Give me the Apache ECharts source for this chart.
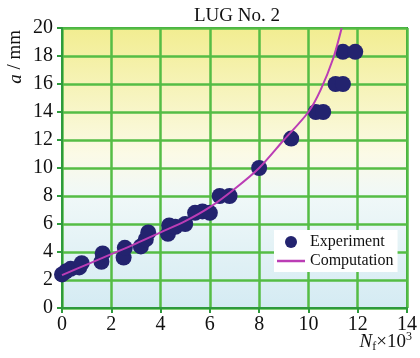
<!DOCTYPE html>
<html><head><meta charset="utf-8">
<script src="https://cdn.jsdelivr.net/npm/echarts@6/dist/echarts.min.js"></script>
<style>html,body{margin:0;padding:0;background:#fff}#c{width:420px;height:358px}</style>
</head><body><div id="c"></div>
<script>
var xTicks = [0, 2, 4, 6, 8, 10, 12, 14];
var yTicks = [0, 2, 4, 6, 8, 10, 12, 14, 16, 18, 20];
var experiment = [
  [0.0, 2.4], [0.15, 2.6], [0.35, 2.8], [0.7, 2.9], [0.8, 3.2],
  [1.6, 3.3], [1.65, 3.9],
  [2.5, 3.6], [2.55, 4.3],
  [3.2, 4.4], [3.4, 4.9], [3.5, 5.4],
  [4.3, 5.3], [4.35, 5.9], [4.6, 5.8], [5.0, 6.0],
  [5.4, 6.8], [5.7, 6.9], [6.0, 6.8],
  [6.4, 8.0], [6.8, 8.0],
  [8.0, 10.0],
  [9.3, 12.1],
  [10.3, 14.0], [10.6, 14.0],
  [11.1, 16.0], [11.4, 16.0],
  [11.4, 18.3], [11.9, 18.3]
];
var computation = [
  [0, 2.35], [1, 3.1], [2, 3.85], [3, 4.6], [4, 5.4], [5, 6.2], [6, 7.2],
  [7, 8.5], [8, 10.0], [9, 12.0], [10, 14.0], [10.5, 15.6], [11, 17.8], [11.35, 20]
];

var chart = echarts.init(document.getElementById('c'));
var serif = 'Liberation Serif';
chart.setOption({
  animation: false,
  title: {
    text: 'LUG No. 2', left: 232, top: 2, textAlign: 'center',
    textStyle: { fontFamily: serif, fontSize: 19, fontWeight: 'normal', color: '#111' }
  },
  grid: {
    left: 62, right: 9, top: 28, bottom: 50, show: true,
    borderColor: '#2e9a3c', borderWidth: 2,
    backgroundColor: new echarts.graphic.LinearGradient(0, 0, 0, 1, [
      { offset: 0, color: '#f2ed90' },
      { offset: 0.45, color: '#fbfae6' },
      { offset: 0.6, color: '#f0f8f8' },
      { offset: 1, color: '#d4ebf3' }
    ])
  },
  xAxis: {
    type: 'value', min: 0, max: 14, interval: 2,
    axisLine: { show: true, lineStyle: { color: '#2e9a3c', width: 2 } },
    axisTick: { show: true, length: 5, lineStyle: { color: '#2e9a3c', width: 2 } },
    splitLine: { show: true, lineStyle: { color: '#55bd45', width: 2.5 } },
    axisLabel: { margin: 7, fontFamily: serif, fontSize: 20, color: '#111',
      formatter: function (v) { return xTicks.indexOf(v) >= 0 ? String(v) : ''; } }
  },
  yAxis: {
    type: 'value', min: 0, max: 20, interval: 2,
    axisLine: { show: true, lineStyle: { color: '#2e9a3c', width: 2 } },
    axisTick: { show: true, length: 5, lineStyle: { color: '#2e9a3c', width: 2 } },
    splitLine: { show: true, lineStyle: { color: '#55bd45', width: 2.5 } },
    axisLabel: { margin: 9, fontFamily: serif, fontSize: 20, color: '#111',
      formatter: function (v) { return yTicks.indexOf(v) >= 0 ? String(v) : ''; } }
  },
  legend: {
    orient: 'vertical', left: 274, top: 230, backgroundColor: '#ffffff',
    padding: [4, 4, 3, 3], itemGap: 3, itemWidth: 28, itemHeight: 12,
    textStyle: { fontFamily: serif, fontSize: 16, color: '#111' },
    data: [
      { name: 'Experiment', icon: 'circle' },
      { name: 'Computation', icon: 'path://M0,0 L28,0 L28,2.5 L0,2.5 Z' }
    ]
  },
  graphic: [
    { type: 'text', left: 6, top: 30, rotation: Math.PI / 2,
      style: { text: '{i|a} / mm', fontFamily: serif, fontSize: 19, fill: '#111',
        rich: { i: { fontStyle: 'italic', fontFamily: serif, fontSize: 19 } } } },
    { type: 'text', right: 8, top: 331,
      style: { text: '{i|N}{s|f}×10{p|3}', fontFamily: serif, fontSize: 19, fill: '#111', lineHeight: 22,
        rich: {
          i: { fontStyle: 'italic', fontFamily: serif, fontSize: 19, lineHeight: 22 },
          s: { fontFamily: serif, fontSize: 12, verticalAlign: 'bottom', lineHeight: 22 },
          p: { fontFamily: serif, fontSize: 12, verticalAlign: 'top', lineHeight: 22 }
        } } }
  ],
  series: [
    { name: 'Experiment', type: 'scatter', data: experiment, symbol: 'circle', symbolSize: 16,
      itemStyle: { color: '#23236f', opacity: 1 }, z: 3 },
    { name: 'Computation', type: 'line', data: computation, smooth: 0.3, symbol: 'none', showSymbol: false,
      lineStyle: { color: '#bb3db5', width: 2 }, itemStyle: { color: '#bb3db5' }, z: 4 }
  ]
});
</script></body></html>
